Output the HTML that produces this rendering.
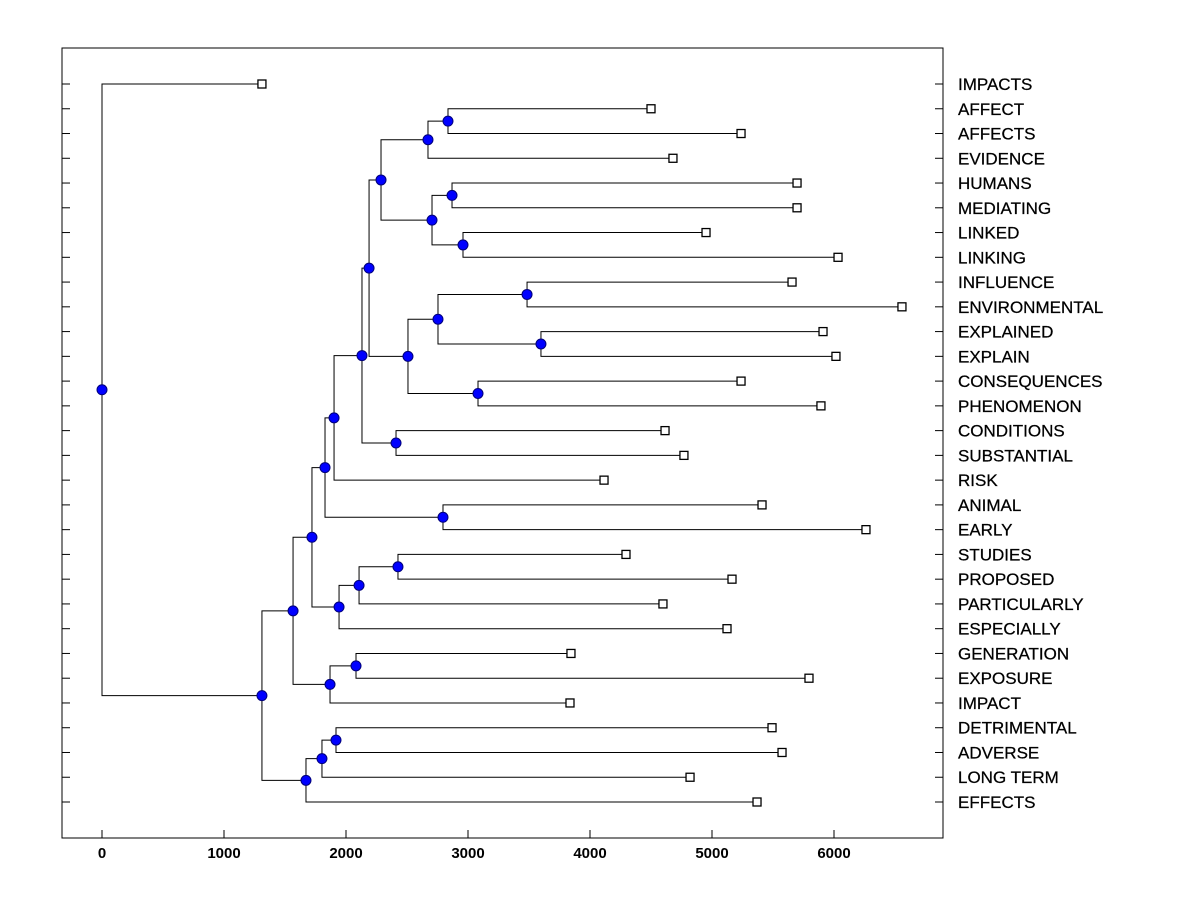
<!DOCTYPE html>
<html><head><meta charset="utf-8"><style>
html,body{margin:0;padding:0;background:#fff;}
svg{display:block;font-family:"Liberation Sans",Arial,sans-serif;}
</style></head><body>
<svg id="chart" width="1200" height="900"></svg>
<script>
const leafNames=["IMPACTS","AFFECT","AFFECTS","EVIDENCE","HUMANS","MEDIATING","LINKED","LINKING","INFLUENCE","ENVIRONMENTAL","EXPLAINED","EXPLAIN","CONSEQUENCES","PHENOMENON","CONDITIONS","SUBSTANTIAL","RISK","ANIMAL","EARLY","STUDIES","PROPOSED","PARTICULARLY","ESPECIALLY","GENERATION","EXPOSURE","IMPACT","DETRIMENTAL","ADVERSE","LONG TERM","EFFECTS"];
const leafValues=[1311,4500,5238,4680,5697,5697,4951,6033,5656,6557,5910,6016,5238,5893,4615,4770,4115,5410,6262,4295,5164,4598,5123,3844,5795,3836,5492,5574,4820,5369];
const mergeLeft=[1,30,4,6,32,31,8,10,36,12,38,35,14,41,43,17,44,19,47,48,46,23,51,50,26,54,55,53,0];
const mergeRight=[2,3,5,7,33,34,9,11,37,13,39,40,15,42,16,18,45,20,21,22,49,24,25,52,27,28,29,56,57];
const mergeHeights=[2836,2672,2869,2959,2705,2287,3484,3598,2754,3082,2508,2189,2410,2131,1902,2795,1828,2426,2107,1943,1721,2082,1869,1566,1918,1803,1672,1311,0];
const xTicks=[0,1000,2000,3000,4000,5000,6000];

const NS="http://www.w3.org/2000/svg";
const svg=document.getElementById('chart');
const L=62,R=943,T=48,B=838;
const xs=v=>102+v*0.122;
const y0=84,dy=(802-84)/(leafNames.length-1);
const ys=i=>y0+i*dy;
function mk(t,a,p){const e=document.createElementNS(NS,t);for(const k in a)e.setAttribute(k,a[k]);(p||svg).appendChild(e);return e;}

const frame=mk('rect',{x:L,y:T,width:R-L,height:B-T,fill:'none',stroke:'#000','stroke-width':1});



xTicks.forEach(v=>{
  const x=xs(v);
  const tk=mk('line',{x1:x,x2:x,y1:B,y2:B-8,stroke:'#000'});
  
  
  const t=mk('text',{x:x,y:B+20,'text-anchor':'middle','font-size':15,'font-weight':'bold'});
  t.textContent=v;
  
  
});

leafNames.forEach((n,i)=>{
  const y=ys(i);
  const a=mk('line',{x1:L,x2:L+8,y1:y,y2:y,stroke:'#000'});
  
  
  const b=mk('line',{x1:R-8,x2:R,y1:y,y2:y,stroke:'#000'});
  
  
  const t=mk('text',{x:958,y:y+6,'font-size':17,stroke:'#000','stroke-width':0.25});
  t.textContent=n;
  
  
});

const nx=[],ny=[];
leafValues.forEach((v,i)=>{nx[i]=xs(v);ny[i]=ys(i);});
const lineG=mk('g',{});


const nodes=[];
mergeHeights.forEach((h,k)=>{
  const id=leafNames.length+k,a=mergeLeft[k],b=mergeRight[k];
  const x=xs(h);nx[id]=x;ny[id]=(ny[a]+ny[b])/2;
  const p=mk('path',{d:`M${nx[a]},${ny[a]}H${x}V${ny[b]}H${nx[b]}`,fill:'none',stroke:'#000','stroke-width':1},lineG);
  
  
  nodes.push(id);
});
leafValues.forEach((v,i)=>{
  const r=mk('rect',{x:nx[i]-4,y:ny[i]-4,width:8,height:8,fill:'#fff',stroke:'#000','stroke-width':1.3});
  
  
});
nodes.forEach(id=>{
  const c=mk('circle',{cx:nx[id],cy:ny[id],r:5,fill:'#0000ff',stroke:'#00007a','stroke-width':1});
  
  
});
</script>
</body></html>
